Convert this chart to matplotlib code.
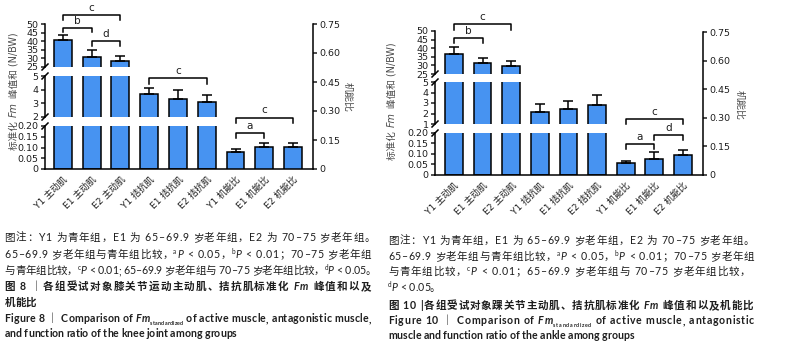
import numpy as np
import matplotlib
matplotlib.use('Agg')
import matplotlib.pyplot as plt
from matplotlib.font_manager import FontProperties
from matplotlib.lines import Line2D
from functools import lru_cache

plt.rcParams['font.family'] = ['DejaVu Sans', 'Noto Sans CJK SC']

# ---- data ----
cats = ['Y1 主动肌', 'E1 主动肌', 'E2 主动肌', 'Y1 拮抗肌', 'E1 拮抗肌', 'E2 拮抗肌',
        'Y1 机能比', 'E1 机能比', 'E2 机能比']

knee_active = [40.5, 31.0, 28.5]
knee_active_sd = [3.0, 4.0, 3.0]
knee_antag = [3.7, 3.35, 3.1]
knee_antag_sd = [0.45, 0.6, 0.5]
knee_ratio = [0.089, 0.115, 0.115]
knee_ratio_sd = [0.016, 0.022, 0.022]

ankle_active = [36.5, 31.5, 29.5]
ankle_active_sd = [4.0, 2.8, 3.0]
ankle_antag = [2.15, 2.4, 2.8]
ankle_antag_sd = [0.75, 0.8, 0.95]
ankle_ratio = [0.063, 0.084, 0.105]
ankle_ratio_sd = [0.012, 0.036, 0.025]

top_ticks = [25, 30, 35, 40, 45, 50]
knee_mid_ticks = [2, 3, 4, 5]
ankle_mid_ticks = [1, 2, 3, 4, 5]
low_ticks = [0, 0.05, 0.10, 0.15, 0.20]
ratio_ticks = [0, 0.15, 0.30, 0.45, 0.60, 0.75]

# significance brackets: (axis, bar i, bar j, level, leg end, letter)
knee_sig = [('top', 0, 2, 55.2, 52.3, 'c'), ('top', 0, 1, 47.7, 45.3, 'b'),
            ('top', 1, 2, 40.1, 37.2, 'd'), ('mid', 3, 5, 4.85, 4.42, 'c'),
            ('r', 6, 8, 0.266, 0.24, 'c'), ('r', 6, 7, 0.1875, 0.16, 'a')]
ankle_sig = [('top', 0, 2, 54.1, 50.6, 'c'), ('top', 0, 1, 45.9, 43.0, 'b'),
             ('r', 6, 8, 0.294, 0.267, 'c'), ('r', 7, 8, 0.21, 0.184, 'd'),
             ('r', 6, 7, 0.163, 0.136, 'a')]

W, H = 800, 354
fig = plt.figure(figsize=(W / 100, H / 100), dpi=100)
r = fig.canvas.get_renderer()

BLUE = '#4793F1'
INK = '#1e1e1e'
LW = 1.1


def fmt(t):
    if t == 0:
        return '0'
    return str(t) if float(t).is_integer() else f'{t:.2f}'


def box(x0, x1, y0, y1):
    return fig.add_axes([x0 / W, 1 - y1 / H, (x1 - x0) / W, (y1 - y0) / H])


def slash(x, y):
    fig.add_artist(Line2D([(x - 3) / W, (x + 3) / W], [1 - (y + 3) / H, 1 - (y - 3) / H],
                          color='black', lw=LW))


def draw_panel(x0, x1, segs, rbox, active, active_sd, antag, antag_sd, ratio, ratio_sd,
               xlim, sig):
    heights = active + antag
    errs = active_sd + antag_sd
    pos = np.arange(len(heights))
    axd = {}
    for k, (key, yt, yb, ticks) in enumerate(segs):
        ax = box(x0, x1, yt, yb)
        ax.bar(pos, heights, width=0.62, color=BLUE, edgecolor='black', linewidth=LW)
        ax.errorbar(pos, heights, yerr=[np.zeros(len(pos)), errs], fmt='none',
                    ecolor='black', elinewidth=LW, capsize=3.5, capthick=LW)
        ax.set_xlim(*xlim)
        ax.set_ylim(ticks[0], ticks[-1])
        ax.set_yticks(ticks)
        ax.set_yticklabels([fmt(t) for t in ticks])
        ax.tick_params(axis='y', length=3, width=LW, labelsize=6.8, pad=1.5, colors=INK)
        for s in ['top', 'right']:
            ax.spines[s].set_visible(False)
        ax.spines['left'].set_linewidth(LW)
        if k < len(segs) - 1:
            ax.spines['bottom'].set_visible(False)
            ax.set_xticks([])
            slash(x0, yb)
        else:
            ax.spines['bottom'].set_linewidth(LW)
            ax.set_xticks(range(len(cats)))
            ax.set_xticklabels(cats, rotation=45, ha='right', rotation_mode='anchor',
                               fontsize=6.6, color=INK)
            ax.tick_params(axis='x', length=0, pad=4)
        if k > 0:
            slash(x0, yt)
        ax.patch.set_visible(False)
        axd[key] = ax

    rax = box(x0, x1, rbox[0], rbox[1])
    rax.patch.set_visible(False)
    rpos = np.arange(6, 9)
    rax.bar(rpos, ratio, width=0.62, color=BLUE, edgecolor='black', linewidth=LW)
    rax.errorbar(rpos, ratio, yerr=[np.zeros(3), ratio_sd], fmt='none', ecolor='black',
                 elinewidth=LW, capsize=3.5, capthick=LW)
    rax.set_xlim(*xlim)
    rax.set_ylim(0, 0.75)
    rax.set_yticks(ratio_ticks)
    rax.set_yticklabels([fmt(t) for t in ratio_ticks])
    rax.yaxis.tick_right()
    rax.tick_params(axis='y', length=3, width=LW, labelsize=6.8, pad=1.5, colors=INK)
    rax.set_xticks([])
    for s in ['top', 'left', 'bottom']:
        rax.spines[s].set_visible(False)
    rax.spines['right'].set_linewidth(LW)
    axd['r'] = rax

    for key, i, j, lev, leg, lab in sig:
        ax = axd[key]
        ax.plot([i, i, j, j], [leg, lev, lev, leg], color='black', lw=LW, clip_on=False)
        ax.annotate(lab, xy=((i + j) / 2, lev), xytext=(0, 1.5), textcoords='offset points',
                    ha='center', va='bottom', fontsize=7.5, color=INK, annotation_clip=False)


draw_panel(45, 313, [('top', 24, 67, top_ticks), ('mid', 76, 117, knee_mid_ticks),
                     ('low', 126, 169, low_ticks)], (24, 169),
           knee_active, knee_active_sd, knee_antag, knee_antag_sd, knee_ratio, knee_ratio_sd,
           (-0.62, 8.69), knee_sig)
draw_panel(435, 703, [('top', 31, 74, top_ticks), ('mid', 82, 124, ankle_mid_ticks),
                      ('low', 133, 175, low_ticks)], (32, 175),
           ankle_active, ankle_active_sd, ankle_antag, ankle_antag_sd, ankle_ratio, ankle_ratio_sd,
           (-0.66, 8.7), ankle_sig)

# ---- text runs (mixed italic / superscript / subscript) ----
CAP = ('Lato', 'Noto Sans CJK SC')
AXF = ('DejaVu Sans', 'Noto Sans CJK SC')


def fprop(fam, size, weight='normal', style='normal'):
    return FontProperties(family=list(fam), size=size, weight=weight, style=style)


@lru_cache(maxsize=None)
def adv(s, fam, size, weight, style):
    prop = fprop(fam, size, weight, style)
    w1 = r.get_text_width_height_descent('|' + s + '|', prop, ismath=False)[0]
    w0 = r.get_text_width_height_descent('||', prop, ismath=False)[0]
    return w1 - w0


def part_style(kind, size, bold):
    sz, dy, style = size, 0.0, 'normal'
    if 'i' in kind:
        style = 'italic'
    if kind == 'sup':
        sz, dy = size * 0.62, size * 0.42
    if kind == 'sub':
        sz, dy = size * 0.5, -size * 0.25
    return sz, ('bold' if bold else 'normal'), style, dy * 100 / 72


def runs(x, y, parts, size=7.6, bold=False, fam=CAP, color=INK, end=None):
    items = []
    for s, kind in parts:
        sz, wt, st, dy = part_style(kind, size, bold)
        for ch in s:
            items.append((ch, sz, wt, st, dy, adv(ch, fam, sz, wt, st)))
    extra = 0.0
    if end is not None and len(items) > 1:
        extra = (end - x - sum(it[5] for it in items)) / (len(items) - 1)
    for ch, sz, wt, st, dy, a in items:
        if ch != ' ':
            fig.text(x / W, 1 - (y - dy) / H, ch, fontproperties=fprop(fam, sz, wt, st),
                     ha='left', va='baseline', color=color)
        x += a + extra


def vruns(xb, yc, parts, size=6.9, fam=AXF, color='#4a4a4a'):
    total = 0.0
    for s, k in parts:
        sz, wt, st, _ = part_style(k, size, False)
        total += adv(s, fam, sz, wt, st)
    y = yc + total / 2
    for s, kind in parts:
        sz, wt, st, _ = part_style(kind, size, False)
        body = s.lstrip()
        lead = adv(s[:len(s) - len(body)], fam, sz, wt, st) if body != s else 0
        fig.text(xb / W, 1 - (y - lead) / H, body, fontproperties=fprop(fam, sz, wt, st),
                 rotation=90, rotation_mode='anchor', ha='left', va='baseline', color=color)
        y -= adv(s, fam, sz, wt, st) + 0.8


ylab = [('标准化 ', 'n'), ('Fm', 'i'), (' 峰值和 (N/BW)', 'n')]
vruns(17, 92, ylab)
vruns(395, 102, ylab)
fig.text(348 / W, 1 - 97 / H, '机能比', rotation=270, ha='center', va='center',
         fontsize=7.2, color='#4a4a4a')
fig.text(740 / W, 1 - 105 / H, '机能比', rotation=270, ha='center', va='center',
         fontsize=7.2, color='#4a4a4a')

note1 = [('图注：Y1 为青年组，E1 为 65–69.9 岁老年组，E2 为 70–75 岁老年组。', 'n')]
note2 = [('65–69.9 岁老年组与青年组比较，', 'n'), ('a', 'sup'), ('P', 'i'), (' < 0.05，', 'n'),
         ('b', 'sup'), ('P', 'i'), (' < 0.01；70–75 岁老年组', 'n')]
knee3 = [('与青年组比较，', 'n'), ('c', 'sup'), ('P', 'i'), (' < 0.01; 65–69.9 岁老年组与 70–75 岁老年组比较，', 'n'),
         ('d', 'sup'), ('P', 'i'), (' < 0.05。', 'n')]

runs(4.5, 241, note1, end=375)
runs(4.5, 258, note2, end=371)
runs(4.5, 274, knee3, end=376)
runs(4.5, 290, [('图 8 ｜各组受试对象膝关节运动主动肌、拮抗肌标准化 ', 'n'), ('Fm', 'i'), (' 峰值和以及', 'n')],
     bold=True, end=371)
runs(4.5, 306, [('机能比', 'n')], bold=True)
runs(4.5, 322, [('Figure 8 ｜ Comparison of ', 'n'), ('Fm', 'i'), ('standardized', 'sub'),
                (' of active muscle, antagonistic muscle,', 'n')], bold=True, end=371)
runs(4.5, 337, [('and function ratio of the knee joint among groups', 'n')], bold=True)

ankle3 = [('与青年组比较，', 'n'), ('c', 'sup'), ('P', 'i'), (' < 0.01；65–69.9 岁老年组与 70–75 岁老年组比较，', 'n')]
runs(388, 244, note1, end=754)
runs(388, 260, note2, end=754)
runs(388, 275, ankle3, end=750)
runs(388, 291, [('d', 'sup'), ('P', 'i'), (' < 0.05。', 'n')])
runs(388, 309, [('图 10 |各组受试对象踝关节主动肌、拮抗肌标准化 ', 'n'), ('Fm', 'i'), (' 峰值和以及机能比', 'n')],
     bold=True, end=753)
runs(388, 324, [('Figure 10 ｜ Comparison of ', 'n'), ('Fm', 'i'), ('standardized', 'sub'),
                (' of active muscle, antagonistic', 'n')], bold=True, end=754)
runs(388, 339, [('muscle and function ratio of the ankle among groups', 'n')], bold=True)

fig.savefig('out.png', dpi=100)
